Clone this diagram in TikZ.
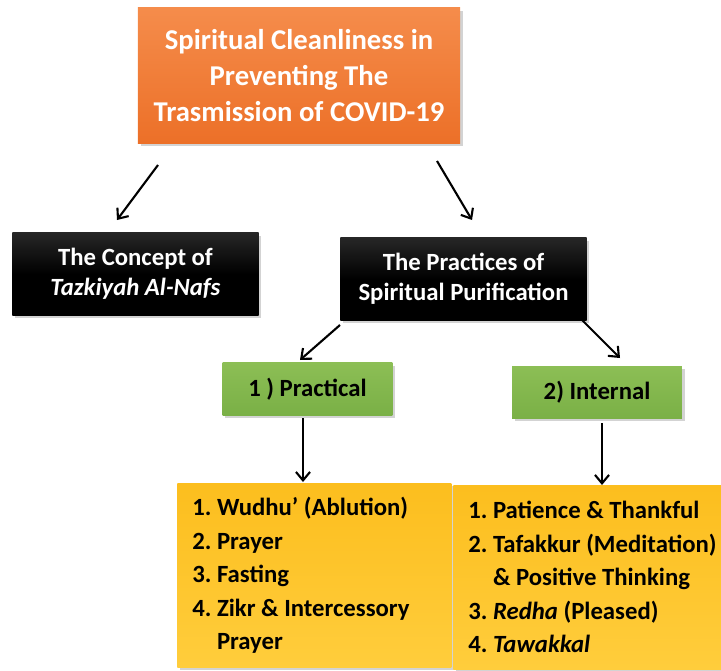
\documentclass[tikz,border=0pt]{standalone}
\usepackage{fontspec}
\setmainfont{Carlito}
\usepackage{tikz}
\usetikzlibrary{arrows.meta,shadows}
\definecolor{boxorange}{RGB}{236,112,40}
\definecolor{boxorangetop}{RGB}{245,140,75}
\definecolor{boxgreen}{RGB}{122,176,70}
\definecolor{boxgreentop}{RGB}{140,190,85}
\definecolor{boxyellow}{RGB}{252,190,30}
\definecolor{boxyellowtop}{RGB}{255,205,60}
\frenchspacing

\tikzset{
  box/.style={inner sep=0pt, align=center,
    drop shadow={shadow xshift=2pt, shadow yshift=-2pt, opacity=0.35}},
  titlebox/.style={box, top color=boxorangetop, bottom color=boxorange,
    text=white, minimum width=8.05cm, minimum height=3.375cm,
    font=\bfseries\fontsize{20.4}{25.6}\selectfont},
  darkbox/.style={box, top color=black!85, bottom color=black, middle color=black,
    text=white, minimum width=6.15cm, minimum height=2.05cm,
    font=\bfseries\fontsize{17.6}{21.3}\selectfont},
  greenbox/.style={box, top color=boxgreentop, bottom color=boxgreen,
    text=black, minimum width=4.24cm, minimum height=1.3cm,
    font=\bfseries\fontsize{17.6}{21}\selectfont},
  listbox/.style={box, top color=boxyellow, bottom color=boxyellowtop,
    text=black, align=flush left, anchor=north west, inner xsep=0.375cm,
    text width=6.1cm, minimum height=4.6cm,
    font=\bfseries\fontsize{17.6}{23.8}\selectfont},
  arr/.style={line width=1.5pt, -{Straight Barb[length=6pt,width=10pt,line width=1.5pt]}}
}

\begin{document}
\begin{tikzpicture}[x=0.025cm, y=-0.025cm]
  \useasboundingbox (0,0) rectangle (721,670);

  % boxes
  \node[titlebox] (main) at (299,75.5)
    {Spiritual Cleanliness in\\Preventing The\\Trasmission of COVID-19};
  \node[darkbox] (concept) at (135.5,274)
    {The Concept of\\\textit{Tazkiyah Al-Nafs}};
  \node[darkbox] (practices) at (463.5,279)
    {The Practices of\\Spiritual Purification};
  \node[greenbox] (practical) at (307.5,389) {1 ) Practical};
  \node[greenbox] (internal) at (597,392.5) {2) Internal};
  \node[listbox] (practlist) at (177,483)
    {1. Wudhu’ (Ablution)\\
     2. Prayer\\
     3. Fasting\\
     4. Zikr \& Intercessory\\
     \phantom{4.} Prayer};
  \node[listbox, text width=6.6cm] (intlist) at (453,485)
    {1. Patience \& Thankful\\
     2. Tafakkur (Meditation)\\
     \phantom{2.} \& Positive Thinking\\
     3. \textit{Redha} (Pleased)\\
     4. \textit{Tawakkal}};

  % arrow ends
  \coordinate (a1) at (158,165);
  \coordinate (b1) at (117,220);
  \coordinate (a2) at (437,161);
  \coordinate (b2) at (472,220);
  \coordinate (a3) at (340,325);
  \coordinate (b3) at (300,360);
  \coordinate (a4) at (582,320);
  \coordinate (b4) at (620,358);
  \coordinate (a5) at (303,418);
  \coordinate (b5) at (303,482);
  \coordinate (a6) at (602,423);
  \coordinate (b6) at (602,485);

  \draw[arr] (a1) -- (b1);
  \draw[arr] (a2) -- (b2);
  \draw[arr] (a3) -- (b3);
  \draw[arr] (a4) -- (b4);
  \draw[arr] (a5) -- (b5);
  \draw[arr] (a6) -- (b6);
\end{tikzpicture}
\end{document}
